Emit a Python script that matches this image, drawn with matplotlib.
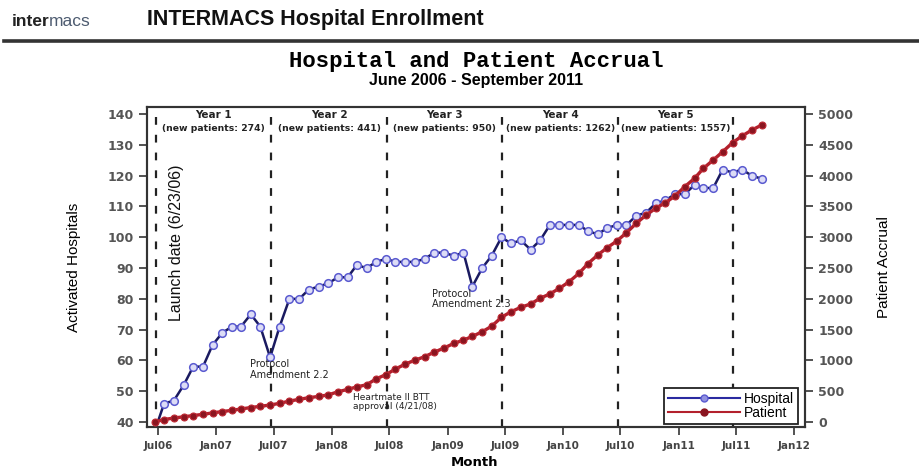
import matplotlib
matplotlib.use("Agg")
import matplotlib.pyplot as plt
from matplotlib.lines import Line2D
import pandas as pd

# monthly points, Jun 2006 .. Sep 2011
months = pd.date_range("2006-06-01", "2011-09-01", freq="MS") + pd.Timedelta(days=19)

hospitals = [
    37, 46, 47, 52, 58, 58, 65, 69, 71, 71, 75, 71, 61, 71, 80, 80,
    83, 84, 85, 87, 87, 91, 90, 92, 93, 92, 92, 92, 93, 95, 95, 94,
    95, 84, 90, 94, 100, 98, 99, 96, 99, 104, 104, 104, 104, 102, 101, 103,
    104, 104, 107, 108, 111, 112, 114, 114, 117, 116, 116, 122, 121, 122, 120, 119,
]
patients = [
    0, 40, 65, 85, 105, 125, 148, 170, 190, 212, 235, 255, 276, 303, 340, 368,
    395, 415, 440, 490, 530, 570, 605, 700, 770, 860, 940, 1005, 1060, 1135, 1200, 1275,
    1330, 1390, 1465, 1555, 1700, 1790, 1862, 1916, 2008, 2080, 2170, 2278, 2414, 2570, 2711, 2830,
    2940, 3073, 3226, 3360, 3469, 3560, 3669, 3820, 3956, 4118, 4253, 4388, 4534, 4643, 4740, 4821,
]

year_starts = ["2006-06-23", "2007-06-23", "2008-06-23", "2009-06-23", "2010-06-23", "2011-06-23"]
year_names = ["Year 1", "Year 2", "Year 3", "Year 4", "Year 5"]
new_patients = [274, 441, 950, 1262, 1557]

xtick_dates = ["2006-07-01", "2007-01-01", "2007-07-01", "2008-01-01", "2008-07-01", "2009-01-01",
               "2009-07-01", "2010-01-01", "2010-07-01", "2011-01-01", "2011-07-01", "2012-01-01"]
xtick_labels = ["Jul06", "Jan07", "Jul07", "Jan08", "Jul08", "Jan09",
                "Jul09", "Jan10", "Jul10", "Jan11", "Jul11", "Jan12"]

SANS = ["Liberation Sans", "DejaVu Sans"]
NARROW = ["Liberation Sans Narrow", "Liberation Sans", "DejaVu Sans"]
W, H = 920, 471

fig = plt.figure(figsize=(9.2, 4.71), dpi=100)
fig.patch.set_facecolor("white")

# header
renderer = fig.canvas.get_renderer()
t1 = fig.text(12 / W, 1 - 22 / H, "inter", fontsize=12.5, color="#222222", va="center",
              family=SANS, weight="bold")
bb = t1.get_window_extent(renderer)
fig.text((bb.x1 - 1) / W, 1 - 22 / H, "macs", fontsize=12.5, color="#4d5b70", va="center",
         family=SANS)
fig.text(147 / W, 1 - 20 / H, "INTERMACS Hospital Enrollment", fontsize=15.5, weight="bold",
         va="center", family=SANS, color="#111111")
fig.add_artist(Line2D([0.004, 1.0], [1 - 41 / H, 1 - 41 / H], transform=fig.transFigure,
                      color="#333333", lw=2.6))
fig.text(476 / W, 1 - 61 / H, "Hospital and Patient Accrual", fontsize=16, weight="bold",
         ha="center", va="center", family=["Liberation Mono", "DejaVu Sans Mono"])
fig.text(476 / W, 1 - 80 / H, "June 2006 - September 2011", fontsize=11.5, weight="bold",
         ha="center", va="center", family=SANS)

ax = fig.add_axes([147 / W, 1 - 427 / H, (805 - 147) / W, (427 - 107) / H])
ax2 = ax.twinx()

ax.plot(months, hospitals, color="#1a1a60", lw=1.8, marker="o", ms=5.5,
        mfc="#dcdcf6", mec="#5a5ad0", mew=1.1, zorder=3)
ax2.plot(months, patients, color="#b3202c", lw=2.4, marker="o", ms=5,
         mfc="#8a1520", mec="#c02a35", mew=0.8, zorder=3)

ax.set_xlim(pd.Timestamp("2006-05-27"), pd.Timestamp("2012-02-04"))
ax.set_ylim(38.4, 142.3)
ax2.set_ylim(-81, 5114)
ax.set_yticks(range(40, 141, 10))
ax2.set_yticks(range(0, 5001, 500))
ax.set_xticks([pd.Timestamp(d) for d in xtick_dates])
ax.set_xticklabels(xtick_labels)

for d in year_starts:
    ax.axvline(pd.Timestamp(d), color="#222222", lw=1.6, ls=(0, (3.5, 4.5)), zorder=1)

xt = ax.get_xaxis_transform()
for i, name in enumerate(year_names):
    mid = pd.Timestamp(year_starts[i]) + (pd.Timestamp(year_starts[i + 1]) - pd.Timestamp(year_starts[i])) / 2
    ax.text(mid, 0.974, name, transform=xt, ha="center", va="center",
            fontsize=7.5, weight="bold", color="#222222")
    ax.text(mid, 0.934, f"(new patients: {new_patients[i]})", transform=xt,
            ha="center", va="center", fontsize=6.7, weight="bold", color="#222222")

ax.text(pd.Timestamp("2006-08-28"), 0.575, "Launch date (6/23/06)", transform=xt,
        rotation=90, ha="center", va="center", fontsize=11.5, family=NARROW, color="#111111")
ax.text(pd.Timestamp("2007-04-19"), 0.18, "Protocol\nAmendment 2.2", transform=xt,
        ha="left", va="center", fontsize=7, color="#222222", linespacing=1.1)
ax.text(pd.Timestamp("2008-11-14"), 0.40, "Protocol\nAmendment 2.3", transform=xt,
        ha="left", va="center", fontsize=7, color="#222222", linespacing=1.1)
ax.text(pd.Timestamp("2008-03-07"), 0.078, "Heartmate II BTT\napproval (4/21/08)",
        transform=xt, ha="left", va="center", fontsize=6.5,
        color="#222222", linespacing=1.1)

for a in (ax, ax2):
    for s in a.spines.values():
        s.set_color("#333333")
        s.set_linewidth(1.5)
    a.tick_params(direction="out", length=6, width=1.3, color="#444444")
ax.tick_params(axis="y", labelsize=9, labelcolor="#555555")
ax.tick_params(axis="x", labelsize=7.5, labelcolor="#444444", pad=4)
ax2.tick_params(axis="y", labelsize=9, labelcolor="#555555")
for lab in ax.get_xticklabels() + ax.get_yticklabels() + ax2.get_yticklabels():
    lab.set_fontweight("bold")

ax.set_ylabel("Activated Hospitals", fontsize=11, family=NARROW)
ax.yaxis.set_label_coords(-0.10, 0.5)
ax2.set_ylabel("Patient Accrual", fontsize=11, family=NARROW)
ax2.yaxis.set_label_coords(1.11, 0.5)
fig.text(475 / W, 1 - 462 / H, "Month", fontsize=9.5, weight="bold", ha="center", va="center")

handles = [
    Line2D([], [], color="#2a2aa0", lw=1.5, marker="o", ms=5, mfc="#9090e0", mec="#5a5ad0"),
    Line2D([], [], color="#b3202c", lw=1.5, marker="o", ms=5, mfc="#8a1520", mec="#8a1520"),
]
leg = ax2.legend(handles, ["Hospital", "Patient"], loc="lower right", bbox_to_anchor=(0.989, 0.01),
                 borderaxespad=0, handlelength=5.2, handletextpad=0.3,
                 labelspacing=0.05, borderpad=0.25, fancybox=False, framealpha=1,
                 prop={"family": SANS, "size": 10})
leg.get_frame().set_edgecolor("#222222")
leg.get_frame().set_linewidth(1.3)

fig.savefig("out.png", dpi=100)
